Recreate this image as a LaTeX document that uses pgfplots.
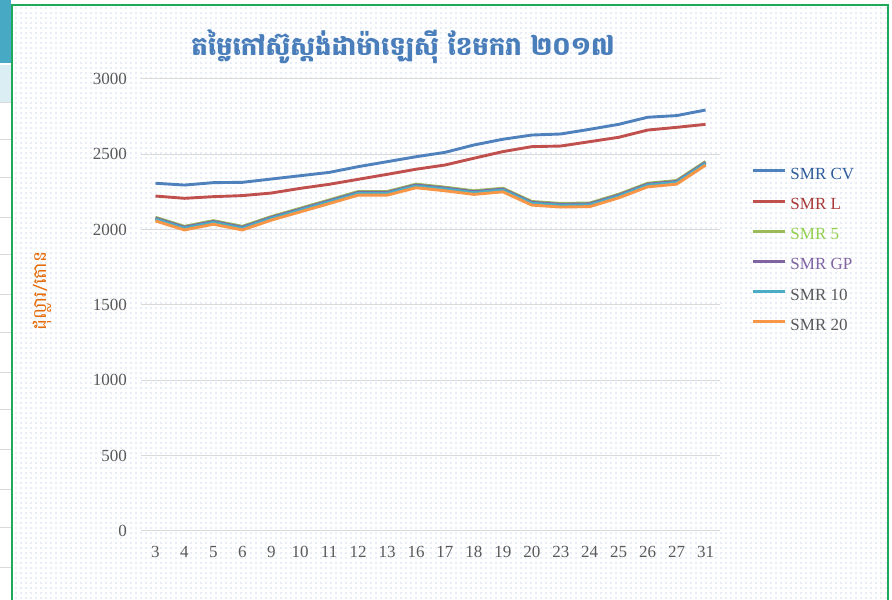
\documentclass[border=0pt]{standalone}
\usepackage{fontspec}
\setmainfont{Liberation Serif}
\newfontfamily\khmer[Script=Khmer]{Battambang}
\usepackage{pgfplots}
\pgfplotsset{compat=1.18}
\usetikzlibrary{patterns.meta}
\definecolor{cCV}{HTML}{4F81BD}
\definecolor{cL}{HTML}{C0504D}
\definecolor{cFive}{HTML}{9BBB59}
\definecolor{cGP}{HTML}{8064A2}
\definecolor{cTen}{HTML}{4BACC6}
\definecolor{cTwenty}{HTML}{F79646}
\definecolor{tCV}{HTML}{2E5C9A}
\definecolor{tL}{HTML}{A93A37}
\definecolor{tFive}{HTML}{92D050}
\definecolor{tGray}{HTML}{595959}
\definecolor{gridc}{HTML}{D9D9D9}
\definecolor{dotc}{HTML}{9AB6DE}
\definecolor{frame}{HTML}{1EAA5A}
\definecolor{titlec}{HTML}{4A7EBB}
\definecolor{ylab}{HTML}{E46C0A}
\definecolor{teal}{HTML}{47A9C3}
\definecolor{cell}{HTML}{DAEEF3}
\tikzdeclarepattern{name=mydots, type=uncolored,
  bounding box={(0,0) and (4.5bp,4.5bp)}, tile size={(4.5bp,4.5bp)},
  code={\fill (2.25bp,2.25bp) circle (0.65bp);}}
\begin{document}
\begin{tikzpicture}[x=1bp,y=1bp]
\path[use as bounding box] (0,0) rectangle (892,600);
% left sheet strip
\fill[white] (0,0) rectangle (11,600);
\fill[teal] (0,537) rectangle (11,600);
\fill[cell] (0,498) rectangle (11,535);
\foreach \yy in {497,460,422,382,345,305,267,227,190,150,110,72,32}{
  \draw[gridc, line width=1bp] (0,\yy) -- (11,\yy);}
% chart background
\fill[white] (12,-5) rectangle (888,595);
\fill[pattern={mydots}, pattern color=dotc] (12,-5) rectangle (888,595);
\draw[frame, line width=2.5bp] (12,-5) rectangle (888,595);
% title and y label
\node[text=titlec, font=\khmer\bfseries\fontsize{26bp}{30bp}\selectfont] at (403,553) {តម្លៃកៅស៊ូស្តង់ដាម៉ាឡេស៊ី ខែមករា ២០១៧};
\node[text=ylab, rotate=90, font=\khmer\fontsize{18.5bp}{22bp}\selectfont] at (42,309) {ដុល្លារ/តោន};
\begin{axis}[
  at={(141bp,69bp)}, anchor=south west,
  scale only axis, width=579bp, height=452bp,
  xmin=-0.5, xmax=19.5, ymin=0, ymax=3000,
  xtick={0,...,19},
  xticklabels={3,4,5,6,9,10,11,12,13,16,17,18,19,20,23,24,25,26,27,31},
  ytick={0,500,...,3000},
  axis line style={draw=none},
  major tick length=0pt,
  ymajorgrids, grid style={gridc, line width=1bp},
  /pgf/number format/assume math mode=true,
  /pgf/number format/1000 sep={},
  tick label style={text=tGray, font=\fontsize{17bp}{20bp}\selectfont},
  yticklabel style={inner sep=0pt, xshift=-14bp},
  xticklabel style={inner sep=0pt, yshift=-15bp},
  legend style={draw=none, fill=none, at={(1.054,0.805)}, anchor=north west,
    inner sep=0pt, row sep=15.2bp, column sep=0pt,
    font=\fontsize{17bp}{20bp}\selectfont,
    nodes={inner sep=0pt, text height=12bp, text depth=3bp}},
  legend cell align=left,
  legend image code/.code={\draw[#1, line width=3bp] (0bp,4bp) -- (32bp,4bp);},
  every axis plot/.append style={line width=2.9bp, line join=round},
  clip=false,
]
\addplot[cCV] coordinates {(0,2308)(1,2296)(2,2312)(3,2314)(4,2336)(5,2358)(6,2380)(7,2418)(8,2451)(9,2484)(10,2513)(11,2562)(12,2600)(13,2628)(14,2635)(15,2666)(16,2699)(17,2746)(18,2757)(19,2794)};
\addlegendentry{\hspace{4bp}\textcolor{tCV}{SMR CV}}
\addplot[cL] coordinates {(0,2223)(1,2208)(2,2219)(3,2226)(4,2243)(5,2274)(6,2301)(7,2334)(8,2367)(9,2401)(10,2429)(11,2474)(12,2518)(13,2551)(14,2555)(15,2584)(16,2613)(17,2661)(18,2679)(19,2699)};
\addlegendentry{\hspace{4bp}\textcolor{tL}{SMR L}}
\addplot[cFive] coordinates {(0,2082)(1,2022)(2,2060)(3,2022)(4,2087)(5,2142)(6,2197)(7,2253)(8,2253)(9,2302)(10,2282)(11,2258)(12,2275)(13,2187)(14,2174)(15,2177)(16,2235)(17,2308)(18,2326)(19,2452)};
\addlegendentry{\hspace{4bp}\textcolor{tFive}{SMR 5}}
\addplot[cGP] coordinates {(0,2076)(1,2016)(2,2054)(3,2016)(4,2081)(5,2136)(6,2191)(7,2247)(8,2247)(9,2296)(10,2276)(11,2252)(12,2269)(13,2181)(14,2168)(15,2171)(16,2229)(17,2302)(18,2320)(19,2446)};
\addlegendentry{\hspace{4bp}\textcolor{cGP}{SMR GP}}
\addplot[cTen] coordinates {(0,2070)(1,2010)(2,2048)(3,2010)(4,2075)(5,2130)(6,2185)(7,2241)(8,2241)(9,2290)(10,2270)(11,2246)(12,2263)(13,2175)(14,2162)(15,2165)(16,2223)(17,2296)(18,2314)(19,2440)};
\addlegendentry{\hspace{4bp}\textcolor{tGray}{SMR 10}}
\addplot[cTwenty] coordinates {(0,2058)(1,1998)(2,2036)(3,1998)(4,2063)(5,2118)(6,2173)(7,2229)(8,2229)(9,2278)(10,2258)(11,2234)(12,2251)(13,2163)(14,2150)(15,2153)(16,2211)(17,2284)(18,2302)(19,2428)};
\addlegendentry{\hspace{4bp}\textcolor{tGray}{SMR 20}}
\end{axis}
\end{tikzpicture}
\end{document}
